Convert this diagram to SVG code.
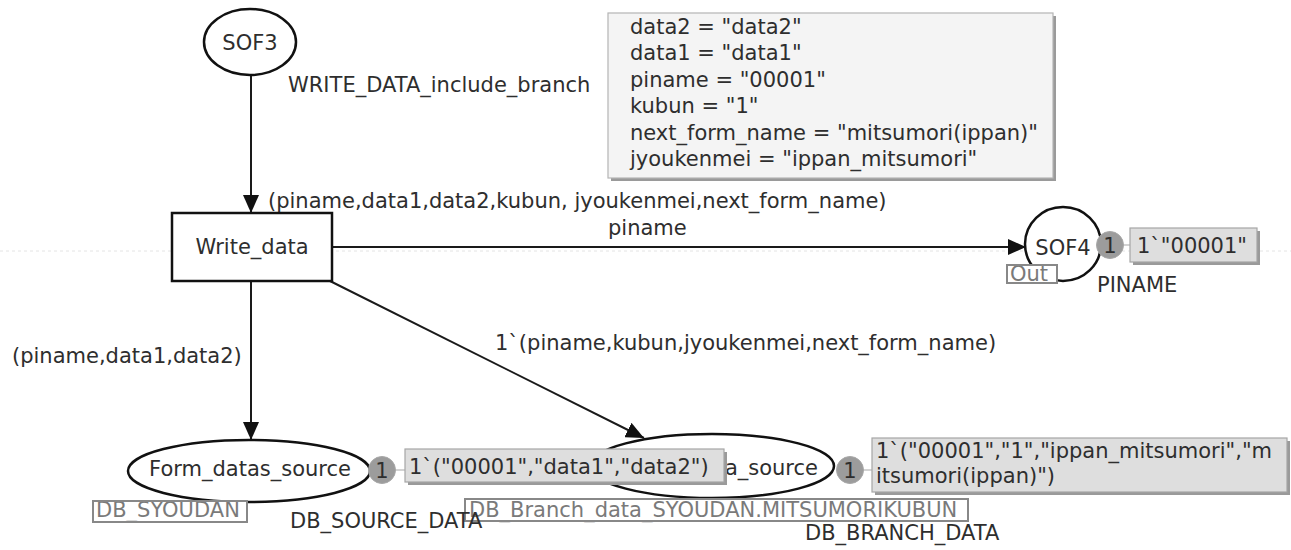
<svg xmlns="http://www.w3.org/2000/svg" width="1291" height="550" viewBox="0 0 1291 550">
  <style>
    text { font-family: "DejaVu Sans", Verdana, sans-serif; font-size: 21px; fill: #2e2e2e; }
    .place { fill: #fff; stroke: #111; stroke-width: 2.5; }
    .trans { fill: #fff; stroke: #111; stroke-width: 2.5; }
    .arc { stroke: #1a1a1a; stroke-width: 2; fill: none; }
    .token { fill: #9c9c9c; stroke: #a8a8a8; stroke-width: 1; }
    .tokline { stroke: #c4c4c4; stroke-width: 1.5; }
    .marking { fill: #dedede; stroke: #a6a6a6; stroke-width: 1.2; }
    .shadow { fill: #9a9a9a; }
    .tag { fill: none; stroke: #888; stroke-width: 2; }
    .tagtext { fill: #7a7a7a; }
    .binding { fill: #f4f4f4; stroke: #b4b4b4; stroke-width: 1.2; }
    .guide { stroke: #e4e4e4; stroke-width: 1; stroke-dasharray: 3 3; }
  </style>
  <defs>
    <marker id="arrow" viewBox="0 0 18 16" refX="18" refY="8" markerWidth="18" markerHeight="16" markerUnits="userSpaceOnUse" orient="auto">
      <path d="M0,0 L18,8 L0,16 Z" fill="#111"/>
    </marker>
  </defs>

  <rect width="1291" height="550" fill="#fff"/>
  <line class="guide" x1="0" y1="251" x2="1291" y2="251"/>

  <!-- arcs -->
  <g id="connectors">
    <line class="arc" x1="251" y1="75" x2="251" y2="213" marker-end="url(#arrow)"/>
    <line class="arc" x1="332" y1="247" x2="1026" y2="247" marker-end="url(#arrow)"/>
    <line class="arc" x1="251" y1="281" x2="251" y2="440" marker-end="url(#arrow)"/>
    <line class="arc" x1="330" y1="281" x2="644" y2="438" marker-end="url(#arrow)"/>
    <text x="268" y="208">(piname,data1,data2,kubun, jyoukenmei,next_form_name)</text>
    <text x="608" y="235">piname</text>
    <text x="12" y="363">(piname,data1,data2)</text>
    <text x="495" y="350">1`(piname,kubun,jyoukenmei,next_form_name)</text>
  </g>

  <!-- place SOF3 -->
  <g id="SOF3">
    <ellipse class="place" cx="250" cy="42" rx="46" ry="33"/>
    <text x="250" y="50" text-anchor="middle">SOF3</text>
  </g>

  <!-- transition Write_data -->
  <g id="Write_data">
    <rect class="trans" x="172" y="213" width="160" height="68"/>
    <text x="252" y="254" text-anchor="middle">Write_data</text>
    <text x="288" y="92">WRITE_DATA_include_branch</text>
  </g>

  <!-- binding box -->
  <g id="bindings">
    <rect class="shadow" x="611" y="16" width="445" height="165"/>
    <rect class="binding" x="608" y="13" width="445" height="165"/>
    <text x="630" y="34">data2 = "data2"</text>
    <text x="630" y="60">data1 = "data1"</text>
    <text x="630" y="87">piname = "00001"</text>
    <text x="630" y="113">kubun = "1"</text>
    <text x="630" y="140">next_form_name = "mitsumori(ippan)"</text>
    <text x="630" y="166">jyoukenmei = "ippan_mitsumori"</text>
  </g>

  <!-- place SOF4 -->
  <g id="SOF4">
    <ellipse class="place" cx="1063" cy="244" rx="38" ry="37"/>
    <text x="1063" y="255" text-anchor="middle">SOF4</text>
    <rect x="1007" y="265" width="50" height="18" fill="#fff"/>
    <text class="tagtext" x="1010" y="281">Out</text>
    <rect class="tag" x="1007" y="265" width="50" height="18"/>
    <text x="1097" y="292">PINAME</text>
    <line class="tokline" x1="1110" y1="245" x2="1130" y2="245"/>
    <circle class="token" cx="1110" cy="245" r="13.5"/>
    <text x="1110" y="253" text-anchor="middle">1</text>
    <rect class="shadow" x="1133" y="231" width="127" height="34"/>
    <rect class="marking" x="1130" y="228" width="127" height="34"/>
    <text x="1137" y="253">1`"00001"</text>
  </g>

  <!-- place whose name is partly covered by the neighbouring marking -->
  <g id="Branch_data_source">
    <ellipse class="place" cx="712" cy="466" rx="122" ry="32"/>
    <text x="818" y="475" text-anchor="end">a_source</text>
    <rect x="465" y="499" width="503" height="22" fill="#fff"/>
    <text class="tagtext" x="469" y="517">DB_Branch_data_SYOUDAN.MITSUMORIKUBUN</text>
    <rect class="tag" x="465" y="499" width="503" height="22"/>
    <text x="805" y="540">DB_BRANCH_DATA</text>
    <line class="tokline" x1="850" y1="470" x2="872" y2="470"/>
    <circle class="token" cx="850" cy="470" r="13.5"/>
    <text x="850" y="478" text-anchor="middle">1</text>
    <rect class="shadow" x="875" y="441" width="415" height="54"/>
    <rect class="marking" x="872" y="438" width="415" height="54"/>
    <text x="876" y="458">1`("00001","1","ippan_mitsumori","m</text>
    <text x="876" y="483">itsumori(ippan)")</text>
  </g>

  <!-- place Form_datas_source -->
  <g id="Form_datas_source">
    <ellipse class="place" cx="249" cy="471" rx="121" ry="31"/>
    <text x="250" y="476" text-anchor="middle">Form_datas_source</text>
    <rect x="93" y="501" width="154" height="21" fill="#fff"/>
    <text class="tagtext" x="96" y="517">DB_SYOUDAN</text>
    <rect class="tag" x="93" y="501" width="154" height="21"/>
    <text x="290" y="528">DB_SOURCE_DATA</text>
    <line class="tokline" x1="382" y1="470" x2="405" y2="470"/>
    <circle class="token" cx="382" cy="470" r="13.5"/>
    <text x="382" y="478" text-anchor="middle">1</text>
    <rect class="shadow" x="408" y="452" width="319" height="33"/>
    <rect class="marking" x="405" y="449" width="319" height="33"/>
    <text x="409" y="474">1`("00001","data1","data2")</text>
  </g>
</svg>
